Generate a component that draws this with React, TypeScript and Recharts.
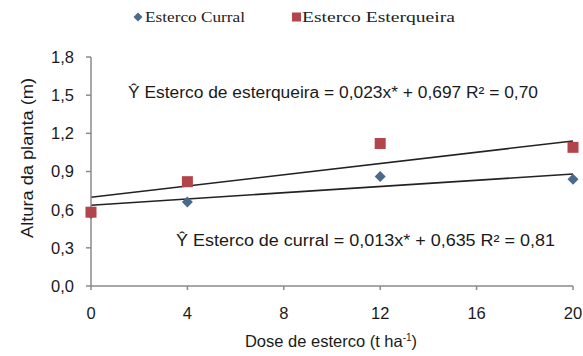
import {
  ComposedChart,
  Scatter,
  Line,
  XAxis,
  YAxis,
} from 'recharts';

// values
const doses = [0, 4, 12, 20];
const curral = [0.57, 0.66, 0.86, 0.84];
const esterqueira = [0.58, 0.82, 1.12, 1.09];

// fitted lines, read at both ends of the dose range
const trendDoses = [0, 20];
const trendCurral = [0.635, 0.88];
const trendEsterqueira = [0.697, 1.14];

const xTicks = [0, 4, 8, 12, 16, 20];
const yTicks = [0, 0.3, 0.6, 0.9, 1.2, 1.5, 1.8];

const seriesNames = ['Esterco Curral', 'Esterco Esterqueira'];

const curralPoints = doses.map((x, i) => ({ x, y: curral[i] }));
const esterqueiraPoints = doses.map((x, i) => ({ x, y: esterqueira[i] }));
const curralFit = trendDoses.map((x, i) => ({ x, y: trendCurral[i] }));
const esterqueiraFit = trendDoses.map((x, i) => ({ x, y: trendEsterqueira[i] }));

const BLUE = '#4a6a8c';
const RED = '#b2454c';
const AXIS = '#8a8a8a';
const FONT = '"Liberation Sans", Arial, sans-serif';
const SERIF = '"Liberation Serif", "DejaVu Serif", serif';

function Diamond({ cx, cy }: any) {
  const s = 5.5;
  return <path d={`M${cx},${cy - s}L${cx + s},${cy}L${cx},${cy + s}L${cx - s},${cy}Z`} fill={BLUE} />;
}

function Square({ cx, cy }: any) {
  const s = 5.5;
  return <rect x={cx - s} y={cy - s} width={s * 2} height={s * 2} fill={RED} />;
}

export default function App() {
  return (
    <div style={{ position: 'absolute', left: 0, top: 0, width: 583, height: 356, background: '#fff' }}>
      <ComposedChart width={583} height={356} margin={{ top: 57, right: 10, bottom: 40, left: 41 }}>
        <XAxis
          type="number"
          dataKey="x"
          domain={[0, 20]}
          ticks={xTicks}
          height={30}
          stroke={AXIS}
          strokeWidth={1.5}
          tickSize={4}
          tickMargin={17}
          tick={{ fontSize: 16.5, fill: '#1a1a1a', fontFamily: FONT }}
        />
        <YAxis
          type="number"
          dataKey="y"
          domain={[0, 1.8]}
          ticks={yTicks}
          width={50}
          stroke={AXIS}
          strokeWidth={1.5}
          tickSize={5}
          tickMargin={12}
          tick={{ fontSize: 16.5, fill: '#1a1a1a', fontFamily: FONT }}
          tickFormatter={(v: number) => v.toFixed(1).replace('.', ',')}
        />
        <Line
          data={esterqueiraFit}
          dataKey="y"
          stroke="#222"
          strokeWidth={1.6}
          dot={false}
          isAnimationActive={false}
        />
        <Line
          data={curralFit}
          dataKey="y"
          stroke="#222"
          strokeWidth={1.6}
          dot={false}
          isAnimationActive={false}
        />
        <Scatter data={curralPoints} dataKey="y" shape={Diamond} isAnimationActive={false} />
        <Scatter data={esterqueiraPoints} dataKey="y" shape={Square} isAnimationActive={false} />
      </ComposedChart>
      <svg
        width={583}
        height={356}
        style={{ position: 'absolute', left: 0, top: 0, pointerEvents: 'none' }}
        fontFamily={FONT}
        fill="#1a1a1a"
      >
        {/* legend */}
        <path d="M138,12.5L142.5,17L138,21.5L133.5,17Z" fill={BLUE} />
        <text x={145} y={21.5} fontFamily={SERIF} fontSize={14} fill="#222" textLength={100} lengthAdjust="spacingAndGlyphs">
          {seriesNames[0]}
        </text>
        <rect x={292} y={12.5} width={9} height={9} fill={RED} />
        <text x={302} y={21.5} fontFamily={SERIF} fontSize={14} fill="#222" textLength={153} lengthAdjust="spacingAndGlyphs">
          {seriesNames[1]}
        </text>

        <text
          x={0}
          y={0}
          fontSize={16}
          textAnchor="middle"
          textLength={160}
          lengthAdjust="spacingAndGlyphs"
          transform="translate(33,158) rotate(-90)"
        >
          Altura da planta (m)
        </text>
        <text x={331} y={347} fontSize={16.5} textAnchor="middle">
          Dose de esterco (t ha<tspan fontSize={10} dy={-6}>-1</tspan>
          <tspan dy={6}>)</tspan>
        </text>
        <text x={128} y={98} fontSize={16} textLength={410} lengthAdjust="spacingAndGlyphs">
          Ŷ Esterco de esterqueira = 0,023x* + 0,697 R² = 0,70
        </text>
        <text x={176} y={246} fontSize={16} textLength={379} lengthAdjust="spacingAndGlyphs">
          Ŷ Esterco de curral = 0,013x* + 0,635 R² = 0,81
        </text>
      </svg>
    </div>
  );
}
